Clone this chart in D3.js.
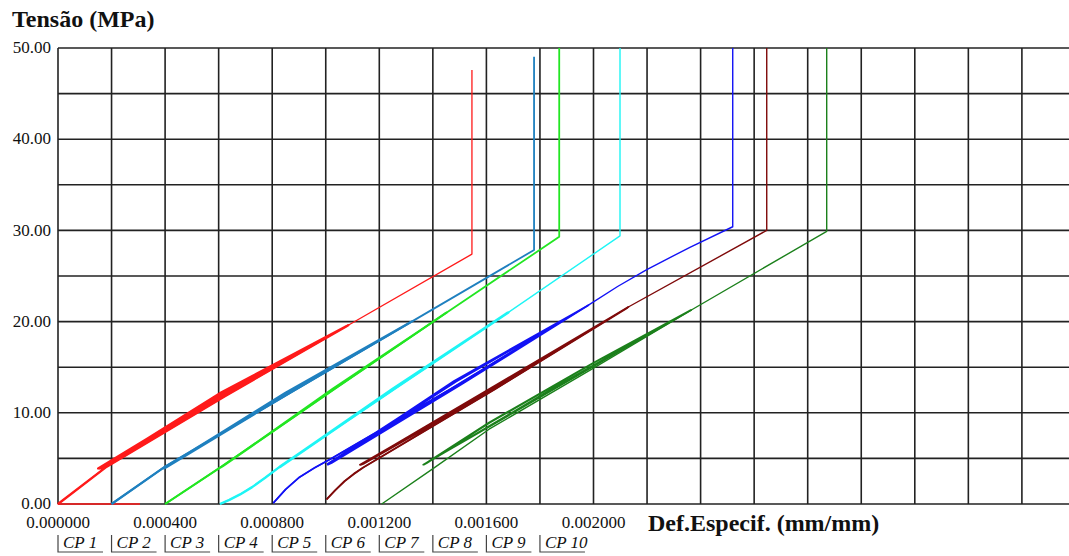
<!DOCTYPE html>
<html><head><meta charset="utf-8">
<script src="https://cdn.jsdelivr.net/npm/d3@7/dist/d3.min.js"></script>
<style>
html,body{margin:0;padding:0;background:#fff;}
svg{display:block;}
svg text{font-family:"Liberation Serif","Times New Roman","DejaVu Serif",serif;}
</style>
</head><body>
<svg id="chart" width="1069" height="556"></svg>
<script>
// ---- data ----
const yTickValues = [0, 10, 20, 30, 40, 50];
const yTickLabels = ["0.00", "10.00", "20.00", "30.00", "40.00", "50.00"];
const xTickValues = [0, 0.0004, 0.0008, 0.0012, 0.0016, 0.0020];
const xTickLabels = ["0.000000", "0.000400", "0.000800", "0.001200", "0.001600", "0.002000"];
const legendNames = ["CP 1", "CP 2", "CP 3", "CP 4", "CP 5", "CP 6", "CP 7", "CP 8", "CP 9", "CP 10"];
const seriesNames = ["CP 1", "CP 2", "CP 3", "CP 4", "CP 5", "CP 6", "CP 7"];

// [strain (mm/mm), stress (MPa)] — main path (initial load, final load to peak, rupture)
const cp1Path = [[0.000306, 0], [0, 0], [0.000182, 4.1], [0.000625, 11.85], [0.001084, 19.6], [0.001546, 27.4], [0.001546, 47.6]];
const cp2Path = [[0.000200, 0], [0.000400, 4.1], [0.000862, 12.1], [0.001321, 20.0], [0.001778, 27.85], [0.001778, 49.05]];
const cp3Path = [[0.000400, 0], [0.000611, 4.1], [0.001032, 12.6], [0.001452, 21.0], [0.001872, 29.3], [0.001872, 50]];
const cp4Path = [[0.000605, 0], [0.000640, 0.45], [0.000680, 1.05], [0.000725, 1.85], [0.000775, 2.9], [0.000829, 4.1], [0.001256, 12.6], [0.001682, 21.0], [0.002099, 29.4], [0.002099, 50]];
const cp5Path = [[0.000804, 0.1], [0.000850, 1.6], [0.000900, 2.9], [0.000960, 4.0], [0.001016, 4.9], [0.001500, 13.2], [0.001981, 21.8], [0.002090, 23.85], [0.002199, 25.7], [0.002360, 28.15], [0.002520, 30.4], [0.002520, 50]];
const cp6Path = [[0.001003, 0.5], [0.001035, 1.5], [0.001070, 2.5], [0.001105, 3.3], [0.001140, 4.0], [0.001632, 12.6], [0.002130, 21.6], [0.002647, 30.0], [0.002647, 50]];
const cp7Path = [[0.001209, 0], [0.001402, 3.9], [0.001610, 8.2], [0.002000, 14.9], [0.002367, 21.3], [0.002871, 29.9], [0.002871, 50]];

// first loading + unloading / reloading cycles (between ~4 MPa and ~20 MPa)
const cp1Loops = [[0, 0], [0.000182, 4.1], [0.000625, 11.85], [0.001084, 19.6], [0.000608, 12.05], [0.000150, 3.9], [0.000165, 3.95], [0.000622, 11.85], [0.001078, 19.5], [0.000602, 12.1], [0.000155, 3.9], [0.000168, 3.95], [0.000617, 11.9], [0.001084, 19.6]];
const cp2Loops = [[0.000200, 0], [0.000400, 4.1], [0.000862, 12.1], [0.001321, 20.0], [0.000852, 12.2], [0.000393, 3.9], [0.000403, 4.0], [0.000860, 12.1], [0.001318, 19.95], [0.000850, 12.2], [0.000395, 3.9], [0.000403, 4.0], [0.000860, 12.1], [0.001321, 20.0]];
const cp3Loops = [[0.000400, 0], [0.000611, 4.1], [0.001032, 12.6], [0.001452, 21.0], [0.001027, 12.65], [0.000608, 4.0], [0.000616, 4.15], [0.001032, 12.6], [0.001450, 21.0]];
const cp4Loops = [[0.000605, 0], [0.000640, 0.45], [0.000680, 1.05], [0.000725, 1.85], [0.000775, 2.9], [0.000829, 4.1], [0.001256, 12.6], [0.001682, 21.0], [0.001250, 12.65], [0.000825, 4.0], [0.000832, 4.1], [0.001254, 12.6], [0.001680, 21.0]];
const cp5Loops = [[0.000804, 0.1], [0.000850, 1.6], [0.000900, 2.9], [0.000960, 4.0], [0.001016, 4.9], [0.001500, 13.2], [0.001981, 21.8], [0.001486, 13.4], [0.001008, 4.3], [0.001022, 4.5], [0.001506, 13.1], [0.001976, 21.7], [0.001482, 13.45], [0.001006, 4.4], [0.001018, 4.5], [0.001498, 13.2], [0.001970, 21.6], [0.001479, 13.5], [0.001012, 4.4], [0.001020, 4.5], [0.001502, 13.15], [0.001981, 21.8]];
const cp6Loops = [[0.001003, 0.5], [0.001035, 1.5], [0.001070, 2.5], [0.001105, 3.3], [0.001140, 4.0], [0.001632, 12.6], [0.002130, 21.6], [0.001625, 12.75], [0.001128, 4.3], [0.001138, 4.4], [0.001632, 12.6], [0.002126, 21.5], [0.001622, 12.8], [0.001130, 4.3], [0.001140, 4.4], [0.001630, 12.6], [0.002130, 21.6]];
const cp7Loops = [[0.002367, 21.3], [0.001860, 12.7], [0.001364, 4.3], [0.001375, 4.5], [0.001610, 8.95], [0.002000, 15.5], [0.002362, 21.25], [0.001855, 12.8], [0.001366, 4.3], [0.001378, 4.5], [0.001612, 8.9], [0.002000, 15.45], [0.002367, 21.3]];

const seriesPaths = [cp1Path, cp2Path, cp3Path, cp4Path, cp5Path, cp6Path, cp7Path];
const seriesLoops = [cp1Loops, cp2Loops, cp3Loops, cp4Loops, cp5Loops, cp6Loops, cp7Loops];

// ---- styles ----
const seriesColors = ["#ff1a1a", "#1f80bf", "#22e622", "#1ef5f5", "#1212f5", "#7f0a0a", "#1b801b"];
const mainWidths = [1.3, 1.8, 1.8, 1.4, 1.4, 1.4, 1.4];
const loopWidths = [2.4, 2.2, 2.0, 2.4, 1.7, 1.9, 1.6];

// ---- layout ----
const svg = d3.select("#chart");
const mLeft = 58, mTop = 48, mBottom = 504, W = 1069;
const x = d3.scaleLinear().domain([0, 0.0038]).range([mLeft, mLeft + 0.0038 / 0.0002 * 53.55]);
const y = d3.scaleLinear().domain([0, 50]).range([mBottom, mTop]);

// grid
const gridX = d3.range(0, 0.00381, 0.0002);
const gridY = d3.range(0, 50.01, 5);
const g = svg.append("g");
g.selectAll("line.vx").data(gridX).join("line")
  .attr("x1", d => x(d)).attr("x2", d => x(d)).attr("y1", mTop).attr("y2", mBottom)
  .attr("stroke", "#222").attr("stroke-width", 1.6);
g.selectAll("line.hy").data(gridY).join("line")
  .attr("x1", mLeft).attr("x2", W).attr("y1", d => y(d)).attr("y2", d => y(d))
  .attr("stroke", "#222").attr("stroke-width", 1.6);

// clip
svg.append("clipPath").attr("id", "plotclip").append("rect")
  .attr("x", mLeft - 2).attr("y", mTop).attr("width", W - mLeft + 2).attr("height", mBottom - mTop + 2);

// curves
const line = d3.line().x(d => x(d[0])).y(d => y(d[1]));
const cg = svg.append("g").attr("clip-path", "url(#plotclip)");
cg.selectAll("path.main").data(seriesPaths).join("path")
  .attr("class", "main")
  .attr("d", line)
  .attr("fill", "none")
  .attr("stroke", (d, i) => seriesColors[i])
  .attr("stroke-width", (d, i) => mainWidths[i])
  .attr("stroke-linejoin", "round");
cg.selectAll("path.loop").data(seriesLoops).join("path")
  .attr("class", "loop")
  .attr("d", line)
  .attr("fill", "none")
  .attr("stroke", (d, i) => seriesColors[i])
  .attr("stroke-width", (d, i) => loopWidths[i])
  .attr("stroke-linejoin", "round");

// y tick labels
svg.append("g").selectAll("text").data(yTickValues).join("text")
  .attr("x", 51).attr("y", d => y(d)).attr("dy", "0.3em")
  .attr("text-anchor", "end")
  .style("font-size", "17px").attr("fill", "#111")
  .text((d, i) => yTickLabels[i]);

// x tick labels
svg.append("g").selectAll("text").data(xTickValues).join("text")
  .attr("x", d => x(d)).attr("y", 528)
  .attr("text-anchor", "middle")
  .style("font-size", "17px").attr("fill", "#111")
  .text((d, i) => xTickLabels[i]);

// axis titles
svg.append("text").attr("x", 12).attr("y", 27)
  .style("font-size", "24px").style("font-weight", "bold").attr("fill", "#111")
  .text("Tensão (MPa)");
svg.append("text").attr("x", 648).attr("y", 531)
  .style("font-size", "24px").style("font-weight", "bold").attr("fill", "#111")
  .text("Def.Especif. (mm/mm)");

// legend
const lg = svg.append("g").selectAll("g").data(legendNames).join("g")
  .attr("transform", (d, i) => `translate(${x(i * 0.0002)},0)`);
lg.append("path").attr("d", "M0,535V552H45").attr("fill", "none")
  .attr("stroke", "#444").attr("stroke-width", 1.2);
lg.append("text").attr("x", 5).attr("y", 548)
  .style("font-size", "17px").style("font-style", "italic").attr("fill", "#111")
  .text(d => d);
</script>
</body></html>
